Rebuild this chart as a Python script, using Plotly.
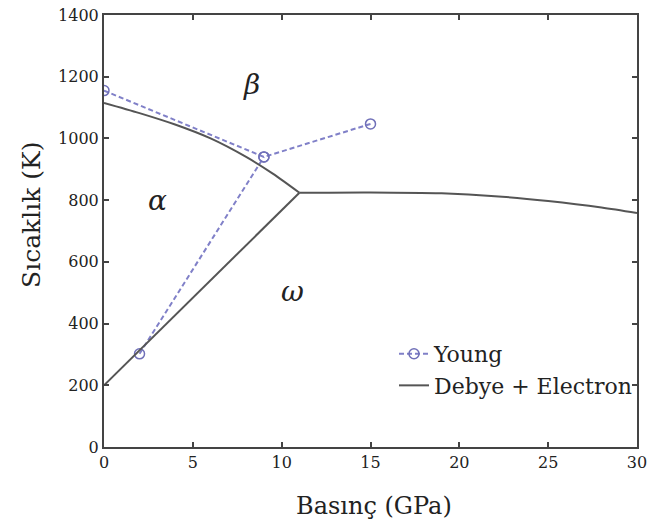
import plotly.graph_objects as go

# Young data (two branches meeting at 9 GPa)
young_x1 = [0, 9, 15]
young_y1 = [1155, 940, 1047]
young_x2 = [2, 9]
young_y2 = [302, 940]

# Debye + Electron boundaries
ab_x = [0, 2, 4, 6, 8, 9.5, 11]
ab_y = [1115, 1082, 1045, 1000, 940, 886, 824]
aw_x = [0, 11]
aw_y = [200, 824]
bw_x = [11, 15, 19, 22, 25, 28, 30]
bw_y = [824, 825, 822, 813, 797, 776, 758]

tick_vals_x = [0, 5, 10, 15, 20, 25, 30]
tick_vals_y = [0, 200, 400, 600, 800, 1000, 1200, 1400]

phase_labels = ["β", "α", "ω"]
phase_x = [8.3, 3.0, 10.6]
phase_y = [1175, 800, 505]

x_title = "Basınç (GPa)"
y_title = "Sıcaklık (K)"

line_col = "#555555"
young_col = "#8080c8"
font = "DejaVu Serif"

fig = go.Figure()
fig.add_trace(go.Scatter(x=young_x1, y=young_y1, mode="lines+markers", name="Young",
                         line=dict(color=young_col, width=2, dash="5px,3px"),
                         marker=dict(symbol="circle-open", size=10, color="#7070b8", line=dict(width=1.5))))
fig.add_trace(go.Scatter(x=young_x2, y=young_y2, mode="lines+markers", showlegend=False,
                         line=dict(color=young_col, width=2, dash="5px,3px"),
                         marker=dict(symbol="circle-open", size=10, color="#7070b8", line=dict(width=1.5))))
fig.add_trace(go.Scatter(x=ab_x, y=ab_y, mode="lines", name="Debye + Electron",
                         line=dict(color=line_col, width=2, shape="spline", smoothing=0.8)))
fig.add_trace(go.Scatter(x=aw_x, y=aw_y, mode="lines", showlegend=False,
                         line=dict(color=line_col, width=2)))
fig.add_trace(go.Scatter(x=bw_x, y=bw_y, mode="lines", showlegend=False,
                         line=dict(color=line_col, width=2, shape="spline", smoothing=0.8)))

for t, x, y in zip(phase_labels, phase_x, phase_y):
    fig.add_annotation(x=x, y=y, text=f"<i>{t}</i>", showarrow=False,
                       font=dict(family=font, size=28, color="#222"))

# axis titles placed as annotations for exact positioning
fig.add_annotation(xref="paper", yref="paper", x=0.507, y=-0.137, text=x_title,
                   showarrow=False, xanchor="center", yanchor="middle",
                   font=dict(family=font, size=24, color="#222"))
fig.add_annotation(xref="paper", yref="paper", x=-0.137, y=0.537, text=y_title,
                   showarrow=False, xanchor="center", yanchor="middle", textangle=-90,
                   font=dict(family=font, size=25, color="#222"))

axis_common = dict(showgrid=False, zeroline=False, showline=True, linecolor="#444",
                   linewidth=2, mirror="ticks", ticks="inside", ticklen=5,
                   tickcolor="#444", tickwidth=2, automargin=False,
                   tickfont=dict(family=font, size=16, color="#222"))

fig.update_xaxes(range=[0, 30], tickvals=tick_vals_x, **axis_common)
fig.update_yaxes(range=[0, 1400], tickvals=tick_vals_y, **axis_common)

fig.update_layout(width=649, height=531, margin=dict(l=104, r=12, t=15, b=84),
                  plot_bgcolor="white", paper_bgcolor="white",
                  legend=dict(x=1.0, y=0.264, xanchor="right", yanchor="top",
                              bgcolor="rgba(0,0,0,0)", font=dict(family=font, size=22, color="#222"),
                              tracegroupgap=0))

fig.write_html("out.html")
